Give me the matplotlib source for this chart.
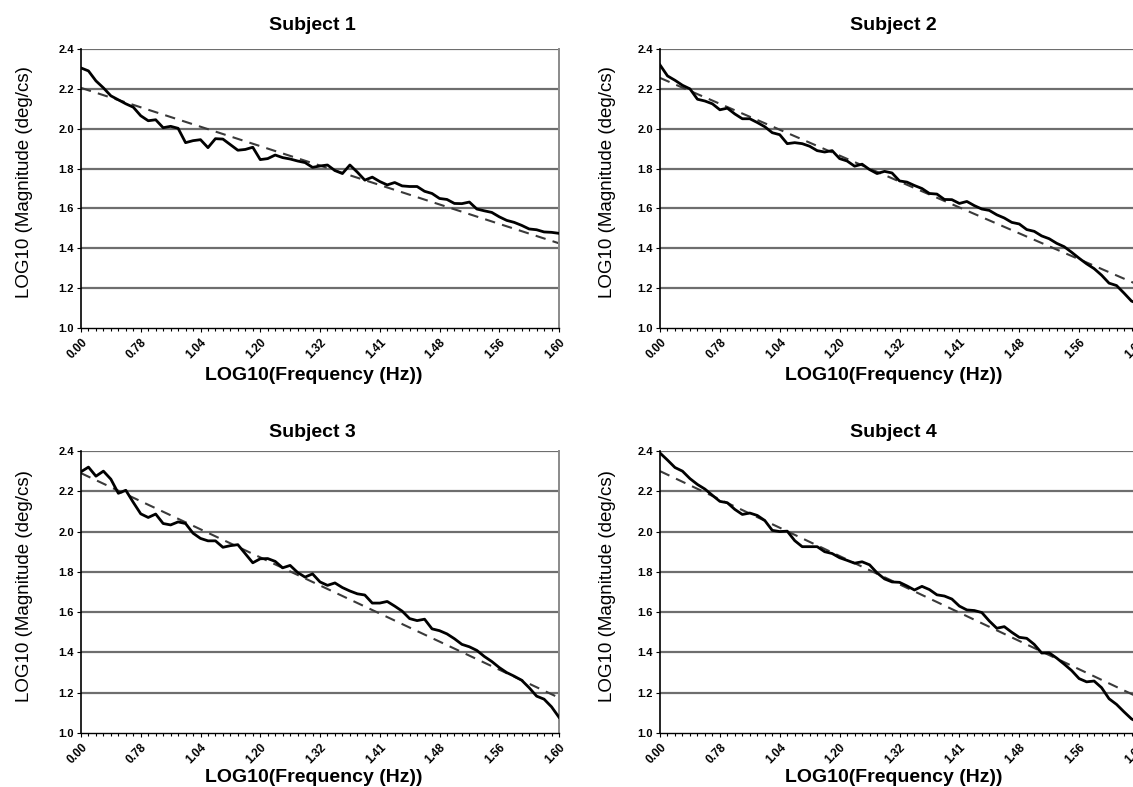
import numpy as np
import matplotlib
matplotlib.use("Agg")
import matplotlib.pyplot as plt

# tick labels on the category axis (LOG10 of frequency)
freq_labels = ['0.00', '0.78', '1.04', '1.20', '1.32', '1.41', '1.48', '1.56', '1.60']

# LOG10 magnitude, 65 samples per subject
subject1 = [2.305, 2.29, 2.24, 2.205, 2.165, 2.145, 2.125, 2.108, 2.065, 2.04,
            2.045, 2.005, 2.012, 2.002, 1.93, 1.94, 1.945, 1.905, 1.95, 1.948,
            1.92, 1.892, 1.896, 1.907, 1.845, 1.85, 1.868, 1.855, 1.848, 1.838,
            1.83, 1.806, 1.813, 1.818, 1.79, 1.775, 1.818, 1.782, 1.742, 1.757,
            1.735, 1.718, 1.73, 1.713, 1.71, 1.71, 1.686, 1.675, 1.65, 1.645,
            1.625, 1.624, 1.632, 1.597, 1.588, 1.58, 1.558, 1.54, 1.53, 1.515,
            1.497, 1.493, 1.482, 1.48, 1.475]
subject2 = [2.32, 2.265, 2.243, 2.218, 2.20, 2.148, 2.139, 2.125, 2.095, 2.103,
            2.074, 2.05, 2.05, 2.031, 2.01, 1.98, 1.97, 1.925, 1.93, 1.925,
            1.912, 1.89, 1.883, 1.89, 1.85, 1.838, 1.812, 1.822, 1.795, 1.775,
            1.786, 1.778, 1.738, 1.732, 1.715, 1.70, 1.675, 1.672, 1.645, 1.644,
            1.625, 1.635, 1.614, 1.597, 1.59, 1.568, 1.552, 1.53, 1.522, 1.494,
            1.485, 1.462, 1.448, 1.425, 1.408, 1.38, 1.35, 1.322, 1.298, 1.265,
            1.225, 1.213, 1.175, 1.135, 1.12]
subject3 = [2.297, 2.32, 2.275, 2.30, 2.26, 2.19, 2.205, 2.145, 2.088, 2.07,
            2.087, 2.04, 2.033, 2.048, 2.04, 1.992, 1.966, 1.954, 1.954, 1.922,
            1.93, 1.935, 1.89, 1.845, 1.865, 1.866, 1.852, 1.82, 1.832, 1.797,
            1.774, 1.79, 1.75, 1.733, 1.745, 1.722, 1.705, 1.691, 1.685, 1.645,
            1.645, 1.653, 1.63, 1.605, 1.568, 1.558, 1.565, 1.517, 1.508, 1.492,
            1.468, 1.44, 1.428, 1.41, 1.38, 1.355, 1.325, 1.30, 1.282, 1.262,
            1.225, 1.183, 1.168, 1.13, 1.078]
subject4 = [2.39, 2.355, 2.318, 2.30, 2.263, 2.234, 2.211, 2.18, 2.15, 2.143,
            2.11, 2.085, 2.092, 2.08, 2.055, 2.006, 2.00, 2.002, 1.955, 1.925,
            1.925, 1.925, 1.90, 1.891, 1.87, 1.857, 1.843, 1.85, 1.835, 1.795,
            1.765, 1.75, 1.748, 1.73, 1.71, 1.728, 1.712, 1.686, 1.68, 1.665,
            1.63, 1.611, 1.608, 1.598, 1.556, 1.52, 1.528, 1.50, 1.475, 1.47,
            1.44, 1.397, 1.398, 1.372, 1.342, 1.31, 1.27, 1.254, 1.258, 1.225,
            1.17, 1.142, 1.105, 1.07, 1.05]

# linear trend lines: value at first and last sample
trend_ends = [(2.205, 1.425), (2.255, 1.215), (2.29, 1.175), (2.30, 1.176)]

titles = ['Subject 1', 'Subject 2', 'Subject 3', 'Subject 4']
series = [subject1, subject2, subject3, subject4]

W, H = 1133, 787
fig = plt.figure(figsize=(W / 100, H / 100), dpi=100)

# axes boxes in pixels: left, top, right, bottom
boxes = [(81, 49, 559, 328), (660, 49, 1139, 328),
         (81, 451, 559, 733), (660, 451, 1139, 733)]
title_pos = [(312, 25), (893, 25), (312, 432), (893, 432)]
xlabel_pos = [(314, 375), (894, 375), (314, 777), (894, 777)]
ylabel_x = [25, 607, 25, 607]

bold_font = ['Liberation Sans Narrow', 'Liberation Sans', 'DejaVu Sans']
reg_font = ['Liberation Sans', 'DejaVu Sans']

for k in range(4):
    l, t, r, b = boxes[k]
    ax = fig.add_axes([l / W, 1 - b / H, (r - l) / W, (b - t) / H])
    y = np.array(series[k])
    x = np.arange(len(y))
    n = len(y) - 1

    for g in np.arange(1.2, 2.41, 0.2):
        ax.axhline(g, color='#6e6e6e', lw=1.6, zorder=1)

    ax.plot([0, n], list(trend_ends[k]), color='#3a3a3a', lw=1.5,
            dashes=(5, 3.5), zorder=2)
    ax.plot(x, y, color='black', lw=2.0, zorder=3)

    ax.set_xlim(0, n)
    ax.set_ylim(1.0, 2.4)
    ax.set_yticks(np.arange(1.0, 2.41, 0.2))
    ax.set_yticklabels(['%.1f' % v for v in np.arange(1.0, 2.41, 0.2)],
                       family=bold_font, fontweight='bold', fontsize=8)
    ax.set_xticks(np.linspace(0, n, len(freq_labels)))
    ax.set_xticklabels(freq_labels, rotation=45, ha='right', rotation_mode='anchor',
                       family=bold_font, fontweight='bold', fontsize=8.5)
    ax.set_xticks(x, minor=True)
    ax.tick_params(axis='x', which='minor', length=2, width=0.8, direction='out')
    ax.tick_params(axis='x', which='major', length=3, width=0.8, pad=3)
    ax.tick_params(axis='y', length=3, width=0.8, pad=2)

    ax.spines['top'].set_visible(False)
    ax.spines['right'].set_color('#8a8a8a')
    ax.spines['right'].set_linewidth(1.4)
    ax.spines['left'].set_linewidth(1.2)
    ax.spines['bottom'].set_linewidth(1.0)
    ax.spines['bottom'].set_linestyle((0, (1, 1)))

    tx, ty = title_pos[k]
    fig.text(tx / W, 1 - ty / H, titles[k], ha='center', va='center',
             family=bold_font, fontweight='bold', fontsize=14)
    lx, ly = xlabel_pos[k]
    fig.text(lx / W, 1 - ly / H, 'LOG10(Frequency (Hz))', ha='center', va='center',
             family=bold_font, fontweight='bold', fontsize=14)
    fig.text(ylabel_x[k] / W, 1 - ((t + b) / 2 - 6) / H, 'LOG10 (Magnitude (deg/cs)',
             ha='center', va='center', rotation=90, family=reg_font, fontsize=13.5)

fig.savefig('out.png', dpi=100)
